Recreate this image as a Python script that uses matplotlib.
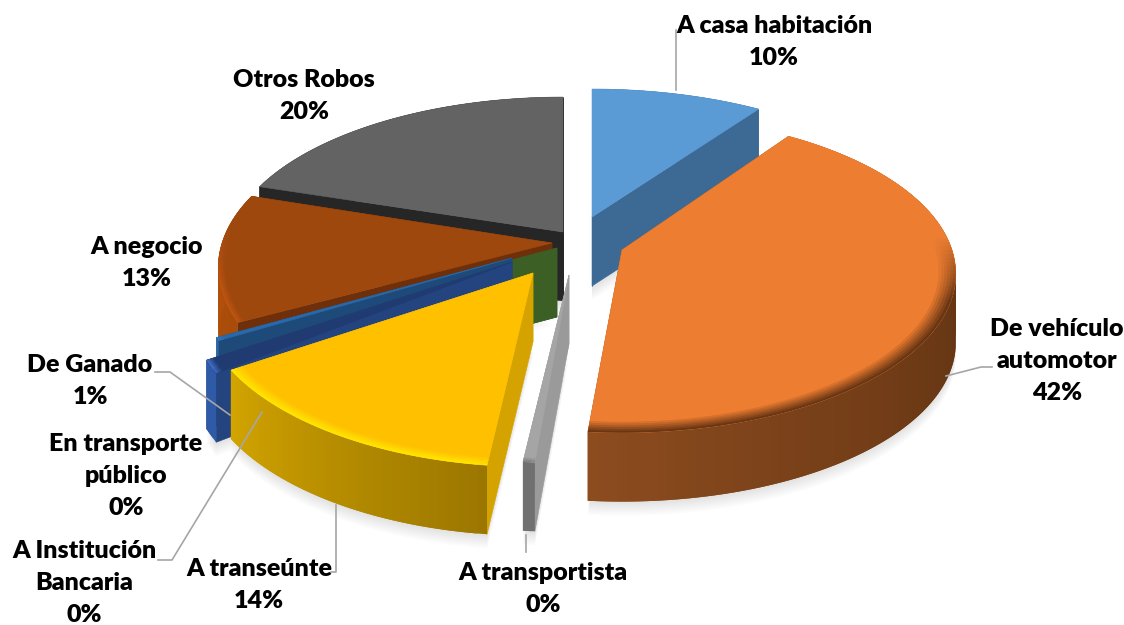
#!/usr/bin/env python
# exploded 3D pie: robos por tipo
import numpy as np
import matplotlib
matplotlib.use("Agg")
import matplotlib.pyplot as plt
from matplotlib.collections import PolyCollection
from matplotlib.colors import to_rgb

names = ["A casa habitación", "De vehículo automotor", "A transportista", "A transeúnte",
         "De Ganado", "En transporte público", "A Institución Bancaria", "A negocio", "Otros Robos"]
values = [9.6, 41.8, 0.49, 14.0, 1.1, 0.05, 0.3, 12.6, 20.06]

# slice looks, same order as values
top_col = ["#5B9BD5", "#ED7D31", "#A5A5A5", "#FFC000", "#203A72", "#3B5F24", "#2A68A8", "#9E480E", "#636363"]
rim_col = ["#5B9BD5", "#6A3714", "#808080", "#FFE400", "#3F70C4", "#3B5F24", "#2F78C0", "#C05510", "#636363"]
side_col = ["#3D6A94", "#A05A20", "#9A9A9A", "#D4A300", "#24447F", "#3B5F24", "#1D4A78", "#6E2F0A", "#262626"]
wall_a = ["#3D6A94", "#5C3012", "#707070", "#9C7700", "#2E5AA8", "#3B5F24", "#2A68A8", "#A84C0A", "#262626"]
wall_b = ["#3D6A94", "#8C4C1E", "#707070", "#D2A400", "#2E5AA8", "#3B5F24", "#2A68A8", "#B8530C", "#262626"]
wall_pow = [1, 2, 1, 1, 1, 1, 1, 1, 1]
shift_x = [37, 67, 14, -22, -43, 2, -43, -3, 8]
shift_y = [-23, 10, 35, 33, 22, 8, 18, 3, -8]
scale_x = [1.0, 1.0, 1.0, 1.0, 0.98, 1.0, 0.94, 1.0, 1.01]
scale_y = [0.92, 0.97, 1.0, 1.03, 1.18, 1.0, 1.0, 1.0, 0.97]
rim_w = [0, 0.05, 0.02, 0.035, 0.02, 0, 0.02, 0.02, 0]
draw_order = [8, 0, 7, 5, 6, 4, 3, 2, 1]

label_x = [774, 1057, 543, 259, 90, 126, 84, 147, 304]
label_y = [41, 360, 588, 584, 380, 475, 582, 262, 95]
label_lines = [["A casa habitación"], ["De vehículo", "automotor"], ["A transportista"], ["A transeúnte"],
               ["De Ganado"], ["En transporte", "público"], ["A Institución", "Bancaria"], ["A negocio"], ["Otros Robos"]]
leaders = [([676, 676], [90, 30]),
           ([946, 981, 992], [376, 367, 367]),
           ([526, 526], [535, 552]),
           ([336, 336, 331], [505, 572, 572]),
           ([230, 170, 155], [415, 372, 372]),
           ([262, 172, 158], [412, 560, 560])]

CX, CY = 555, 240
R, S, K = 330, 160, 0.15
DEPTH = 69
LINE_H = 32


def proj(i, r, th):
    u = r * np.sin(th)
    v = r * np.cos(th)
    w = 1 + K * v
    return CX + shift_x[i] + R * scale_x[i] * u / w, CY + shift_y[i] - S * scale_y[i] * v / w


def mix(a, b, t):
    a, b = np.array(to_rgb(a)), np.array(to_rgb(b))
    return tuple(a + (b - a) * t)


def draw_polys(ax, polys, cols, z):
    pc = PolyCollection(polys, facecolors=cols, edgecolors="none", zorder=z)
    ax.add_collection(pc)


fig = plt.figure(figsize=(11.24, 6.25), dpi=100)
ax = fig.add_axes([0, 0, 1, 1])
ax.set_xlim(0, 1124)
ax.set_ylim(625, 0)
ax.axis("off")

edges = np.radians(np.concatenate([[0], np.cumsum(values)]) * 3.6)

for z, i in enumerate(draw_order):
    z = z * 10 + 1
    ths = np.linspace(edges[i], edges[i + 1], max(4, int(values[i] * 2.5)))
    ax_, ay_ = proj(i, 1.0, ths)
    tx, ty = proj(i, 0.0, 0.0)

    # soft shadow under the slice
    for k in range(2, 16, 2):
        ax.fill(np.r_[tx, ax_], np.r_[ty, ay_] + DEPTH + k, color="k", alpha=0.014, lw=0, zorder=z)

    # cut faces
    for th in (edges[i], edges[i + 1]):
        ex, ey = proj(i, 1.0, th)
        ax.fill([tx, ex, ex, tx], [ty, ey, ey + DEPTH, ty + DEPTH], color=side_col[i], lw=0.4, zorder=z + 1)

    # outer wall, shaded along the arc; each piece runs under the next so no seams show
    polys, cols = [], []
    for j in range(len(ths) - 1):
        k = min(j + 2, len(ths) - 1)
        polys.append(list(zip(ax_[j:k + 1], ay_[j:k + 1])) +
                     list(zip(ax_[j:k + 1][::-1], ay_[j:k + 1][::-1] + DEPTH)))
        cols.append(mix(wall_a[i], wall_b[i], (j / max(1, len(ths) - 2)) ** wall_pow[i]))
    draw_polys(ax, polys, cols, z + 2)

    # top face
    ax.fill(np.r_[tx, ax_], np.r_[ty, ay_], color=top_col[i], lw=0.4, zorder=z + 3)

    # bevel along the arc, fading out towards the back
    if rim_w[i] > 0:
        polys, cols = [], []
        steps = 6
        for s in range(steps):
            r0 = 1 - rim_w[i] * (1 - s / steps)
            r1 = 1 - rim_w[i] * (1 - (s + 1) / steps)
            x0, y0 = proj(i, r0, ths)
            x1, y1 = proj(i, r1, ths)
            for j in range(len(ths) - 1):
                k = min(j + 2, len(ths) - 1)
                polys.append(list(zip(x0[j:k + 1], y0[j:k + 1])) +
                             list(zip(x1[j:k + 1][::-1], y1[j:k + 1][::-1])))
                fade = np.clip((0.1 - np.cos(ths[j])) / 0.4, 0, 1)
                cols.append(mix(top_col[i], rim_col[i], fade * (s + 1) / steps))
        draw_polys(ax, polys, cols, z + 4)

for xs, ys in leaders:
    ax.plot(xs, ys, color="#A6A6A6", lw=1.2, zorder=200)

plt.rcParams["font.family"] = ["Lato", "DejaVu Sans"]
for lines, val, x, y in zip(label_lines, values, label_x, label_y):
    rows = lines + ["%d%%" % round(val)]
    for n, row in enumerate(rows):
        # one text per line, baseline placed by hand so line pitch stays at 32px
        ax.text(x, y + (n - (len(rows) - 1) / 2) * LINE_H + 8, row, ha="center", va="baseline",
                fontsize=18, fontweight="heavy", color="k", zorder=300)

fig.savefig("out.png", dpi=100)
